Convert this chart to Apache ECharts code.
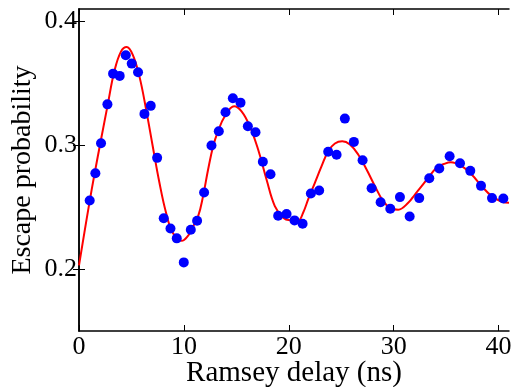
<!DOCTYPE html>
<html><head><meta charset="utf-8">
<script src="https://cdn.jsdelivr.net/npm/echarts@6/dist/echarts.min.js"></script>
<style>html,body{margin:0;padding:0;background:#fff}#c{width:517px;height:387px}</style>
</head><body><div id="c"></div>
<script>
var pointX = [1.02,1.56,2.10,2.71,3.25,3.88,4.46,5.03,5.63,6.24,6.84,7.45,8.08,8.72,9.32,9.99,10.66,11.26,11.93,12.63,13.33,13.97,14.67,15.40,16.10,16.83,17.53,18.26,18.99,19.79,20.55,21.32,22.11,22.90,23.76,24.56,25.35,26.21,27.04,27.90,28.76,29.68,30.60,31.53,32.44,33.40,34.35,35.34,36.33,37.31,38.33,39.38,40.46];
var pointY = [0.2554,0.2774,0.3016,0.333,0.3578,0.356,0.3726,0.3659,0.3589,0.3253,0.3318,0.2898,0.2411,0.2328,0.2248,0.2054,0.2318,0.239,0.2619,0.2998,0.3113,0.3266,0.3379,0.3344,0.3153,0.3105,0.2866,0.2766,0.2431,0.2444,0.2393,0.2366,0.261,0.2635,0.2947,0.2923,0.3215,0.3027,0.2879,0.2653,0.254,0.2487,0.2581,0.2425,0.2573,0.2734,0.2812,0.2911,0.2855,0.2793,0.2672,0.2573,0.257];
var fitX = [0,0.51,0.99,1.47,2.10,2.74,3.37,4.01,4.55,5.12,5.76,6.40,7.03,7.67,8.30,8.94,9.80,10.37,10.72,11.36,11.83,12.31,12.79,13.26,13.90,14.79,15.50,16.29,17.08,17.88,18.67,19.47,20.10,20.90,21.37,21.85,22.49,23.13,23.76,24.40,25.10,25.83,26.62,27.42,28.22,29.01,29.81,30.44,31.39,32.03,32.67,33.30,34.10,34.90,35.45,36.49,37.44,38.40,39.35,40.31,41.0];
var fitY = [0.203,0.2293,0.2535,0.2764,0.3046,0.3328,0.3597,0.3758,0.3793,0.3731,0.3556,0.3288,0.2992,0.2697,0.2455,0.2294,0.2228,0.2266,0.232,0.2427,0.2589,0.2804,0.2992,0.3113,0.3234,0.3315,0.3274,0.3153,0.2965,0.2723,0.2508,0.2415,0.2395,0.2393,0.2455,0.2562,0.2697,0.2831,0.2952,0.3014,0.3032,0.3006,0.2925,0.2804,0.2669,0.2548,0.2487,0.248,0.2535,0.2602,0.2669,0.2737,0.2818,0.2852,0.2863,0.2831,0.2764,0.2669,0.2589,0.2544,0.2535];
var xTicks = [0,10,20,30,40];
var yTicks = [0.2,0.3,0.4];

var font = 'Liberation Serif';
var pts = pointX.map(function(x,i){return [x,pointY[i]];});
var fit = fitX.map(function(x,i){return [x,fitY[i]];});
var axLine = {show:true, lineStyle:{color:'#000', width:1.5}};
var chart = echarts.init(document.getElementById('c'));
chart.setOption({
  animation:false,
  backgroundColor:'#fff',
  grid:{left:79, right:8, top:9, bottom:56, containLabel:false, outerBoundsMode:'none'},
  xAxis:[{
    type:'value', min:0, max:41, position:'bottom',
    axisLine:axLine,
    axisTick:{inside:true, length:6, lineStyle:{color:'#000', width:1}, customValues:xTicks},
    axisLabel:{customValues:xTicks, fontFamily:font, fontSize:26, color:'#000', margin:3},
    splitLine:{show:false},
    name:'Ramsey delay (ns)', nameLocation:'middle', nameGap:28, nameMoveOverlap:false,
    nameTextStyle:{fontFamily:font, fontSize:29, color:'#000'}
  },{
    type:'value', min:0, max:41, position:'top',
    axisLine:axLine,
    axisTick:{inside:true, length:6, lineStyle:{color:'#000', width:1}, customValues:xTicks},
    axisLabel:{show:false}, splitLine:{show:false}
  }],
  yAxis:[{
    type:'value', min:0.15, max:0.41, position:'left',
    axisLine:axLine,
    axisTick:{inside:true, length:6, lineStyle:{color:'#000', width:1}, customValues:yTicks},
    axisLabel:{customValues:yTicks, fontFamily:font, fontSize:26, color:'#000', margin:2,
      formatter:function(v){return v.toFixed(1);}},
    splitLine:{show:false},
    name:'Escape probability', nameLocation:'middle', nameGap:42, nameMoveOverlap:false,
    nameTextStyle:{fontFamily:font, fontSize:28, color:'#000'}
  },{
    type:'value', min:0.15, max:0.41, position:'right',
    axisLine:axLine,
    axisTick:{inside:true, length:6, lineStyle:{color:'#000', width:1}, customValues:yTicks},
    axisLabel:{show:false}, splitLine:{show:false}
  }],
  series:[{
    type:'line', data:fit, smooth:0.4, showSymbol:false, symbol:'none',
    lineStyle:{color:'#ff0000', width:2}, z:2
  },{
    type:'scatter', data:pts, symbol:'circle', symbolSize:10,
    itemStyle:{color:'#0000ff', opacity:1}, z:3
  }]
});
</script></body></html>
